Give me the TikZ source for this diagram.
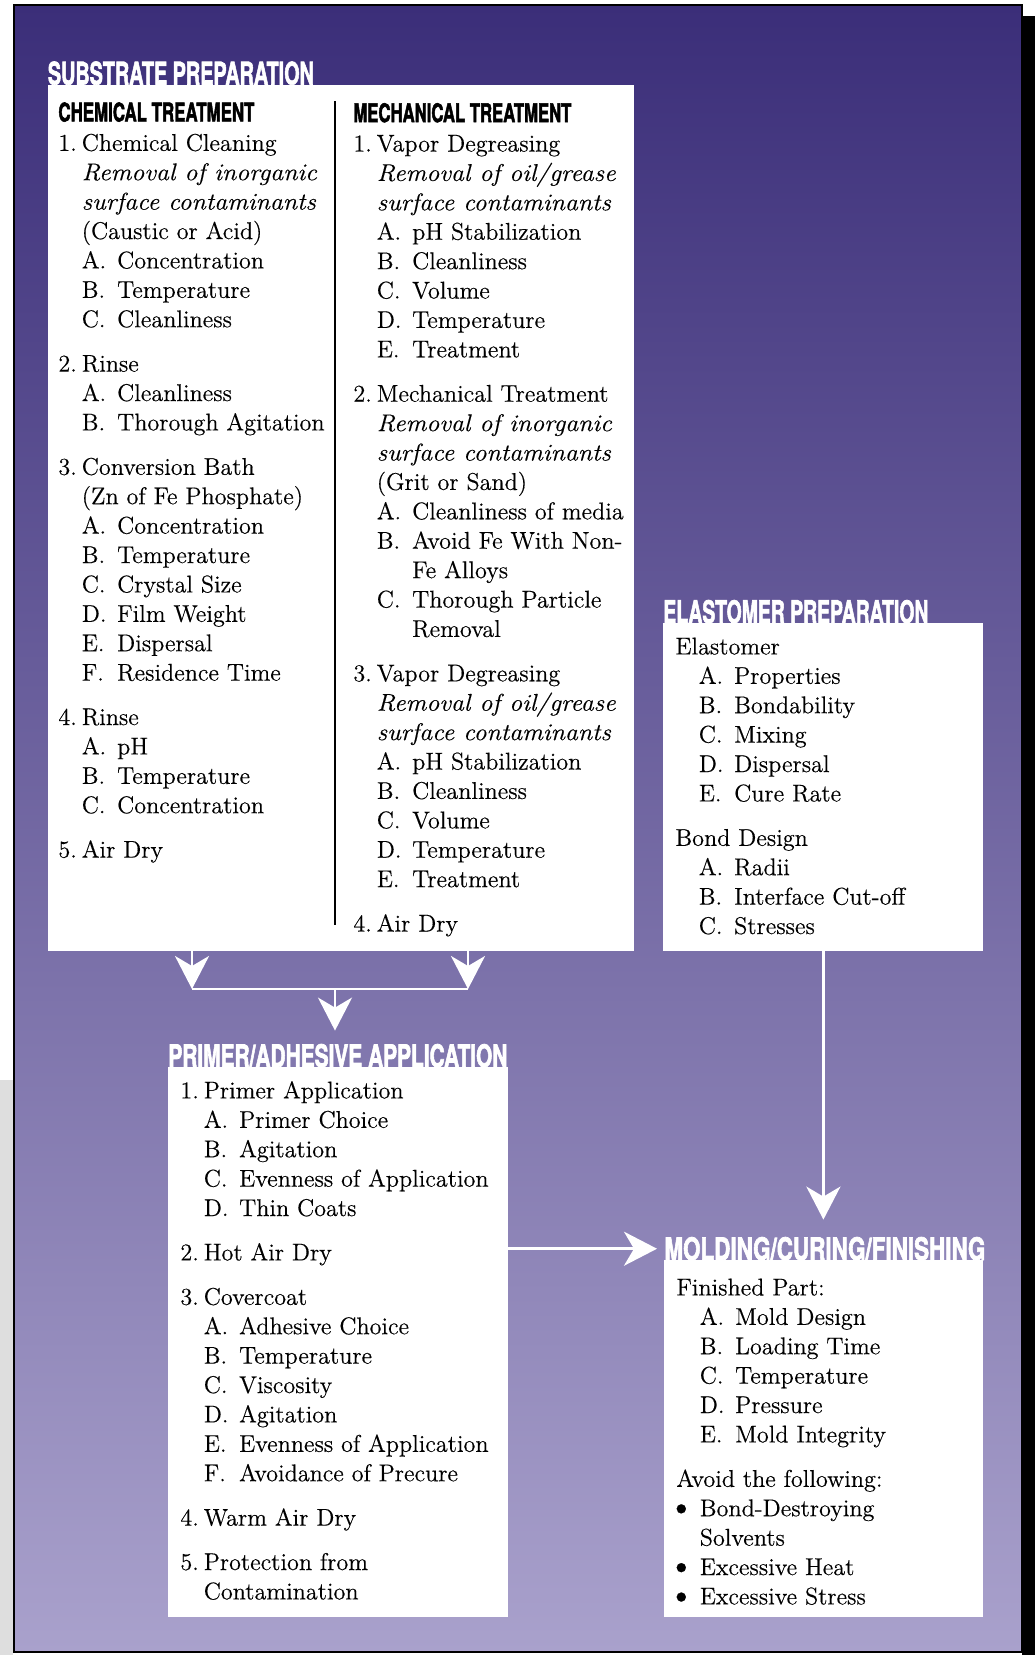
\documentclass[tikz,border=0pt]{standalone}
\usepackage{fontspec}
\usepackage{graphicx}
\usepackage{tikz}
\usetikzlibrary{arrows.meta, positioning, calc}
\setmainfont{Latin Modern Roman}[FakeBold=0.35]
\newfontfamily\headfont[BoldFeatures={FakeBold=2.5}]{TeX Gyre Heros}
\definecolor{frametop}{RGB}{59,46,121}
\definecolor{framebottom}{RGB}{169,161,204}
\definecolor{edgegray}{RGB}{222,222,222}

\newcommand{\bigtitle}[2]{\resizebox{#1}{11.5pt}{\headfont\bfseries #2}}
\newcommand{\colhead}[2]{\resizebox{#1}{9.5pt}{\headfont\bfseries #2}}
\newcommand{\topstrut}{\rule{0pt}{10pt}}
\newcommand{\numitem}[2]{\makebox[11.7pt][l]{#1}#2}
\newcommand{\letitem}[2]{\hspace*{11.7pt}\makebox[17.7pt][l]{#1}#2}
\newcommand{\indline}[1]{\hspace*{11.7pt}#1}
\newcommand{\deepline}[1]{\hspace*{29.4pt}#1}
\newcommand{\slant}[1]{\scalebox{1.07}[1]{\itshape #1}}
\newcommand{\bulletmark}{\hspace*{-4pt}\raisebox{-0.4pt}{\scalebox{1.4}{\textbullet}}}

\begin{document}
\begin{tikzpicture}[
    x=0.5pt, y=-0.5pt,
    panel/.style={fill=white, inner sep=0pt, anchor=north west},
    body/.style={inner sep=0pt, anchor=north west, align=left, font=\fontsize{12.1}{14.7}\selectfont},
    ttl/.style={text=white, inner sep=0pt, anchor=base west},
    flow/.style={draw=white, line width=1.4pt, -{Stealth[length=16.5pt, width=17pt, inset=5pt]}},
    joinline/.style={draw=white, line width=1.4pt}
  ]
  \useasboundingbox (0,0) rectangle (1035,1655);

  % frame and shadow
  \fill[edgegray] (0,1080) rectangle (13,1655);
  \fill[black] (1022,16) rectangle (1035,1655);
  \shade[top color=frametop, bottom color=framebottom] (14,5) rectangle (1022,1652);
  \draw[line width=1pt] (14,5) rectangle (1022,1652);

  % panels
  \node[panel, minimum width=293pt, minimum height=433pt] (sub) at (47.5,84.5) {};
  \node[panel, minimum width=160pt, minimum height=163.75pt] (elast) at (663,623) {};
  \node[panel, minimum width=169.75pt, minimum height=274.75pt] (prim) at (168,1067) {};
  \node[panel, minimum width=159.5pt, minimum height=178.5pt] (mold) at (664,1260) {};

  \node[ttl] (subtitle) at (sub.north west) {\bigtitle{133pt}{SUBSTRATE PREPARATION}};
  \node[ttl] (elasttitle) at (elast.north west) {\bigtitle{132.5pt}{ELASTOMER PREPARATION}};
  \node[ttl] (primtitle) at (prim.north west) {\bigtitle{169.5pt}{PRIMER/ADHESIVE APPLICATION}};
  \node[ttl] (moldtitle) at (mold.north west) {\bigtitle{160.5pt}{MOLDING/CURING/FINISHING}};

  \draw[line width=0.6pt] (335,101) -- (335,925);

  \node[body] (chem) at (58,101) {\topstrut\colhead{98pt}{CHEMICAL TREATMENT}\\
    \numitem{1.}{Chemical Cleaning}\\
    \indline{\slant{Removal of inorganic}}\\
    \indline{\slant{surface contaminants}}\\
    \indline{(Caustic or Acid)}\\
    \letitem{A.}{Concentration}\\
    \letitem{B.}{Temperature}\\
    \letitem{C.}{Cleanliness}\\[7.5pt]
    \numitem{2.}{Rinse}\\
    \letitem{A.}{Cleanliness}\\
    \letitem{B.}{Thorough Agitation}\\[7.5pt]
    \numitem{3.}{Conversion Bath}\\
    \indline{(Zn of Fe Phosphate)}\\
    \letitem{A.}{Concentration}\\
    \letitem{B.}{Temperature}\\
    \letitem{C.}{Crystal Size}\\
    \letitem{D.}{Film Weight}\\
    \letitem{E.}{Dispersal}\\
    \letitem{F.}{Residence Time}\\[7.5pt]
    \numitem{4.}{Rinse}\\
    \letitem{A.}{pH}\\
    \letitem{B.}{Temperature}\\
    \letitem{C.}{Concentration}\\[7.5pt]
    \numitem{5.}{Air Dry}};

  \node[body] (mech) at (353,101.7) {\topstrut\colhead{109pt}{MECHANICAL TREATMENT}\\
    \numitem{1.}{Vapor Degreasing}\\
    \indline{\slant{Removal of oil/grease}}\\
    \indline{\slant{surface contaminants}}\\
    \letitem{A.}{pH Stabilization}\\
    \letitem{B.}{Cleanliness}\\
    \letitem{C.}{Volume}\\
    \letitem{D.}{Temperature}\\
    \letitem{E.}{Treatment}\\[7.5pt]
    \numitem{2.}{Mechanical Treatment}\\
    \indline{\slant{Removal of inorganic}}\\
    \indline{\slant{surface contaminants}}\\
    \indline{(Grit or Sand)}\\
    \letitem{A.}{Cleanliness of media}\\
    \letitem{B.}{Avoid Fe With Non-}\\
    \deepline{Fe Alloys}\\
    \letitem{C.}{Thorough Particle}\\
    \deepline{Removal}\\[7.5pt]
    \numitem{3.}{Vapor Degreasing}\\
    \indline{\slant{Removal of oil/grease}}\\
    \indline{\slant{surface contaminants}}\\
    \letitem{A.}{pH Stabilization}\\
    \letitem{B.}{Cleanliness}\\
    \letitem{C.}{Volume}\\
    \letitem{D.}{Temperature}\\
    \letitem{E.}{Treatment}\\[7.5pt]
    \numitem{4.}{Air Dry}};

  \node[body] (elastlist) at (675,634) {\topstrut Elastomer\\
    \letitem{A.}{Properties}\\
    \letitem{B.}{Bondability}\\
    \letitem{C.}{Mixing}\\
    \letitem{D.}{Dispersal}\\
    \letitem{E.}{Cure Rate}\\[7.5pt]
    Bond Design\\
    \letitem{A.}{Radii}\\
    \letitem{B.}{Interface Cut-off}\\
    \letitem{C.}{Stresses}};

  \node[body] (primlist) at (180,1078) {\topstrut\numitem{1.}{Primer Application}\\
    \letitem{A.}{Primer Choice}\\
    \letitem{B.}{Agitation}\\
    \letitem{C.}{Evenness of Application}\\
    \letitem{D.}{Thin Coats}\\[7.5pt]
    \numitem{2.}{Hot Air Dry}\\[7.5pt]
    \numitem{3.}{Covercoat}\\
    \letitem{A.}{Adhesive Choice}\\
    \letitem{B.}{Temperature}\\
    \letitem{C.}{Viscosity}\\
    \letitem{D.}{Agitation}\\
    \letitem{E.}{Evenness of Application}\\
    \letitem{F.}{Avoidance of Precure}\\[7.5pt]
    \numitem{4.}{Warm Air Dry}\\[7.5pt]
    \numitem{5.}{Protection from}\\
    \indline{Contamination}};

  \node[body] (moldlist) at (676,1275) {\topstrut Finished Part:\\
    \letitem{A.}{Mold Design}\\
    \letitem{B.}{Loading Time}\\
    \letitem{C.}{Temperature}\\
    \letitem{D.}{Pressure}\\
    \letitem{E.}{Mold Integrity}\\[7.5pt]
    Avoid the following:\\
    \numitem{\bulletmark}{Bond-Destroying}\\
    \indline{Solvents}\\
    \numitem{\bulletmark}{Excessive Heat}\\
    \numitem{\bulletmark}{Excessive Stress}};

  % flow arrows
  \coordinate (joinL) at (192,989);
  \coordinate (joinR) at (468,989);
  \coordinate (joinM) at (335,989);
  \draw[flow] (sub.south -| joinL) -- (joinL);
  \draw[flow] (sub.south -| joinR) -- (joinR);
  \draw[joinline] (joinL) -- (joinR);
  \draw[flow, shorten >=6.5pt] (joinM) -- (joinM |- primtitle.north);
  \draw[flow, shorten >=8.5pt] (elast.south) -- (elast.south |- moldtitle.north);
  \draw[flow, shorten >=3.5pt] (prim.east |- moldtitle.west) -- (moldtitle.west);
\end{tikzpicture}
\end{document}
